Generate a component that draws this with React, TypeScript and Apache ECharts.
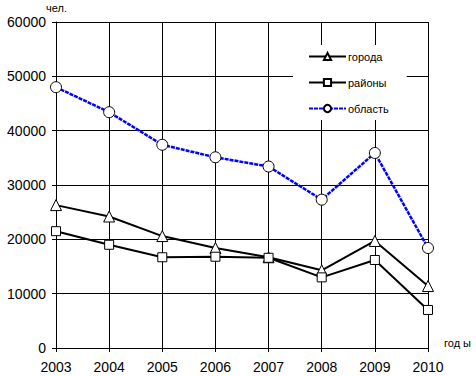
import React, { useEffect, useRef } from "react";
import * as echarts from "echarts";

const years = ["2003", "2004", "2005", "2006", "2007", "2008", "2009", "2010"];
const goroda = [26300, 24200, 20600, 18400, 16700, 14300, 19700, 11400];
const rayony = [21500, 19000, 16700, 16800, 16600, 13000, 16200, 7000];
const oblast = [48000, 43400, 37400, 35100, 33400, 27300, 35900, 18400];

const FONT = "Liberation Sans, Arial, sans-serif";

export default function App() {
  const ref = useRef<HTMLDivElement>(null);
  useEffect(() => {
    if (!ref.current) return;
    const chart = echarts.init(ref.current, undefined, { renderer: "svg" });
    const markerStyle = { color: "#fff", borderColor: "#000", borderWidth: 1 };
    chart.setOption({
      animation: false,
      backgroundColor: "#fff",
      textStyle: { fontFamily: FONT },
      grid: { left: 56, right: 48, top: 22, bottom: 28 },
      legend: {
        orient: "vertical",
        left: 293,
        top: 45,
        backgroundColor: "#fff",
        padding: [6, 18, 6, 15],
        itemGap: 15,
        itemWidth: 37,
        itemHeight: 9,
        textStyle: { fontSize: 11, color: "#000", fontFamily: FONT, padding: [0, 0, 0, -3] },
        data: ["города", "районы", "область"],
      },
      xAxis: {
        type: "category",
        data: years,
        boundaryGap: false,
        axisLine: { lineStyle: { color: "#000", width: 1 } },
        axisTick: { show: true, length: 4, alignWithLabel: true, lineStyle: { color: "#000" } },
        axisLabel: { fontSize: 14, color: "#000", margin: 12, fontFamily: FONT },
        splitLine: { show: true, lineStyle: { color: "#000", width: 1 } },
      },
      yAxis: {
        type: "value",
        min: 0,
        max: 60000,
        interval: 10000,
        axisLine: { show: true, lineStyle: { color: "#000", width: 1 } },
        axisTick: { show: true, length: 4, lineStyle: { color: "#000" } },
        axisLabel: {
          fontSize: 14,
          color: "#000",
          margin: 10,
          fontFamily: FONT,
          formatter: (v: number) => String(v),
        },
        splitLine: { show: true, lineStyle: { color: "#000", width: 1 } },
      },
      series: [
        {
          name: "города",
          type: "line",
          data: goroda,
          symbol: "triangle",
          symbolSize: 11,
          lineStyle: { color: "#000", width: 2 },
          itemStyle: markerStyle,
          z: 3,
        },
        {
          name: "районы",
          type: "line",
          data: rayony,
          symbol: "rect",
          symbolSize: 9,
          lineStyle: { color: "#000", width: 2 },
          itemStyle: markerStyle,
          z: 3,
        },
        {
          name: "область",
          type: "line",
          data: oblast,
          symbol: "circle",
          symbolSize: 11,
          lineStyle: { color: "#0000ff", width: 2.5, type: [4, 1] },
          itemStyle: markerStyle,
          z: 4,
        },
      ],
      graphic: [
        {
          type: "text",
          left: 46,
          top: 2,
          style: { text: "чел.", fontSize: 11, fill: "#000", fontFamily: FONT },
        },
        {
          type: "text",
          left: 444,
          top: 337,
          style: { text: "год ы", fontSize: 11, fill: "#000", fontFamily: FONT },
        },
      ],
    });
    return () => chart.dispose();
  }, []);
  return <div ref={ref} style={{ width: 476, height: 376, position: "absolute", left: 0, top: 0 }} />;
}
